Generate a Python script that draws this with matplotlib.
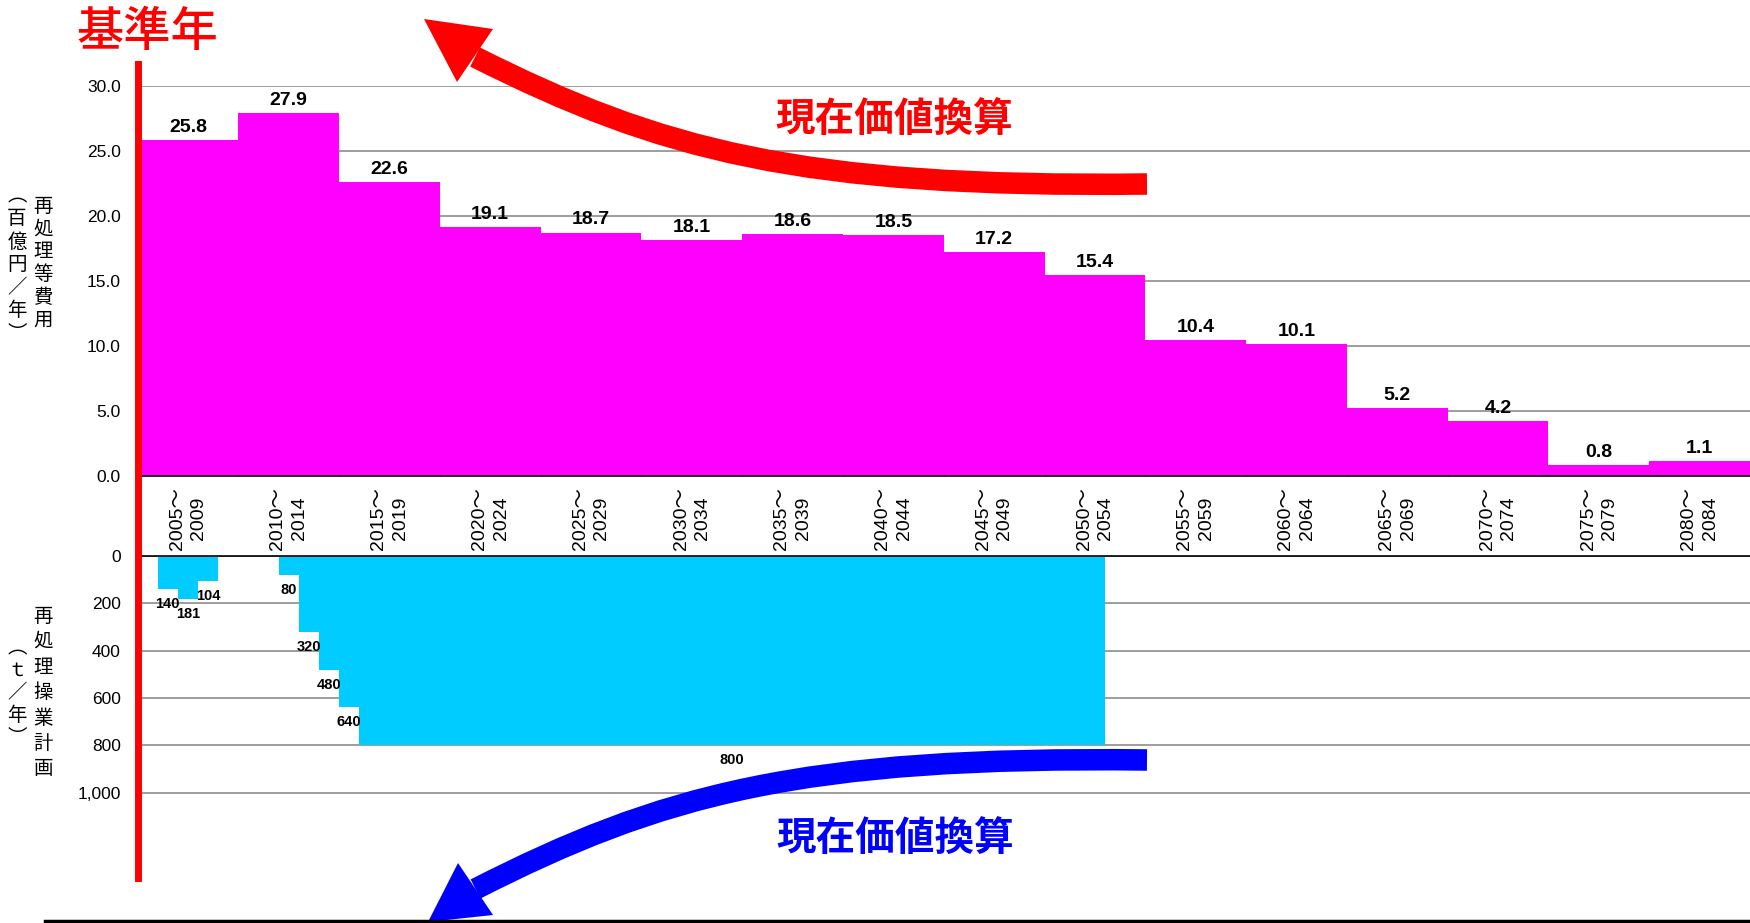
import numpy as np
import matplotlib
matplotlib.use('Agg')
import matplotlib.pyplot as plt
from matplotlib.path import Path
from matplotlib.patches import PathPatch, Polygon
from matplotlib.lines import Line2D

plt.rcParams['font.family'] = ['Liberation Sans', 'Noto Sans CJK JP']

## 再処理等費用（百億円／年）、5年ごと
periods = ['2005～\n2009', '2010～\n2014', '2015～\n2019', '2020～\n2024',
           '2025～\n2029', '2030～\n2034', '2035～\n2039', '2040～\n2044',
           '2045～\n2049', '2050～\n2054', '2055～\n2059', '2060～\n2064',
           '2065～\n2069', '2070～\n2074', '2075～\n2079', '2080～\n2084']
cost = [25.8, 27.9, 22.6, 19.1, 18.7, 18.1, 18.6, 18.5,
        17.2, 15.4, 10.4, 10.1, 5.2, 4.2, 0.8, 1.1]

## 再処理操業計画（t／年）: 開始年, 終了年(含まず), 処理量
plan_from = [2006, 2007, 2008, 2012, 2013, 2014, 2015, 2016]
plan_to = [2007, 2008, 2009, 2013, 2014, 2015, 2016, 2053]
plan_t = [140, 181, 104, 80, 320, 480, 640, 800]

first_year = 2005
years_per_bin = 5

W, H = 1750, 923
fig = plt.figure(figsize=(W / 100, H / 100), dpi=100)


def fx(x):
    return x / W


def fy(y):
    return 1 - y / H


## 上段: 費用
n = len(cost)
x = np.arange(n)
ax1 = fig.add_axes([fx(137.5), fy(475.5), 1 - fx(137.5), (475.5 - 85.7) / H])
ax1.bar(x, cost, width=1.0, align='edge', color='#FF00FF', zorder=2)
ax1.set_xlim(0, n)
ax1.set_ylim(0, 30)
ax1.set_yticks(np.arange(0, 31, 5))
ax1.yaxis.set_major_formatter(lambda v, p: f'{v:.1f}')
ax1.grid(axis='y', color='#8c8c8c', lw=1.2)
ax1.set_axisbelow(True)
for s in ['top', 'right', 'left']:
    ax1.spines[s].set_visible(False)
ax1.spines['bottom'].set_linewidth(1.2)
ax1.set_xticks(x[1:], labels=[''] * (n - 1))
ax1.set_xticks(x + 0.5, minor=True)
ax1.set_xticklabels(periods, minor=True, rotation=90, fontsize=14, linespacing=1.35)
ax1.tick_params(axis='x', which='major', direction='in', length=5, width=1)
ax1.tick_params(axis='x', which='minor', length=0, pad=8)
ax1.tick_params(axis='y', length=0, pad=12, labelsize=12.5)
for xi, v in zip(x, cost):
    ax1.annotate(f'{v:.1f}', (xi + 0.5, v), xytext=(0, 5.8), textcoords='offset points',
                 ha='center', va='baseline', fontsize=14, fontweight='bold')

## 下段: 操業計画（下向き）
ax2 = fig.add_axes([fx(137.5), fy(878), 1 - fx(137.5), (878 - 556) / H])
ax2.bar(plan_from, plan_t, width=np.subtract(plan_to, plan_from), align='edge',
        color='#00CCFF', zorder=2)
ax2.set_xlim(first_year, first_year + years_per_bin * n)
ax2.set_ylim(1361, 0)
ax2.set_yticks(range(0, 1001, 200))
ax2.yaxis.set_major_formatter(lambda v, p: f'{v:,.0f}')
ax2.set_xticks([])
ax2.grid(axis='y', color='#8c8c8c', lw=1.2)
ax2.set_axisbelow(True)
for s in ['bottom', 'right', 'left']:
    ax2.spines[s].set_visible(False)
ax2.spines['top'].set_linewidth(1.2)
ax2.tick_params(axis='y', length=0, pad=12, labelsize=12.5)
for a, b, t in zip(plan_from, plan_to, plan_t):
    ax2.annotate(str(t), ((a + b) / 2, t), xytext=(0, -13.7), textcoords='offset points',
                 ha='center', va='baseline', fontsize=10.5, fontweight='bold')

## 基準年の縦線と下の線
fig.add_artist(Line2D([fx(137.5)] * 2, [fy(64), fy(878)], color='red', lw=5,
                      transform=fig.transFigure))
fig.add_artist(Line2D([fx(45), 1], [fy(921)] * 2, color='black', lw=2.5,
                      transform=fig.transFigure))


## 曲がった矢印
def curved_arrow(pts, head, color):
    verts = [(fx(a), fy(b)) for a, b in pts]
    path = Path(verts, [Path.MOVETO, Path.CURVE4, Path.CURVE4, Path.CURVE4])
    fig.add_artist(PathPatch(path, fill=False, edgecolor=color, lw=15.5,
                             capstyle='butt', transform=fig.transFigure))
    fig.add_artist(Polygon([(fx(a), fy(b)) for a, b in head], closed=True,
                           facecolor=color, edgecolor='none', transform=fig.transFigure))


curved_arrow([(1147, 184), (800, 188), (660, 150), (475, 57)],
             [(424, 19), (457, 82), (493, 29)], '#FF0000')
curved_arrow([(1147, 760), (800, 756), (660, 795), (475.5, 889)],
             [(428, 922), (458, 863), (493, 915)], '#0000FF')

jp = ['Noto Sans CJK JP']
fig.text(fx(147), fy(33), '基準年', color='#FF0000', fontsize=34, fontweight='medium',
         ha='center', va='center', family=jp)
fig.text(fx(894), fy(120), '現在価値換算', color='#FF0000', fontsize=28.5,
         fontweight='bold', ha='center', va='center', family=jp)
fig.text(fx(895), fy(839), '現在価値換算', color='#0000FF', fontsize=28.5,
         fontweight='bold', ha='center', va='center', family=jp)


## 縦書きの軸ラベル
def vcol(xc, y0, step, chars):
    for i, c in enumerate(chars):
        fig.text(fx(xc), fy(y0 + i * step), c, ha='center', va='center',
                 fontsize=14, family=jp)


vcol(43.5, 206, 22.8, '再処理等費用')
vcol(17, 196, 23, '︵百億円／年︶')
vcol(43.5, 616, 25.5, '再処理操業計画')
vcol(17, 648, 22.5, '︵ｔ／年︶')

fig.savefig('out.png', dpi=100)
